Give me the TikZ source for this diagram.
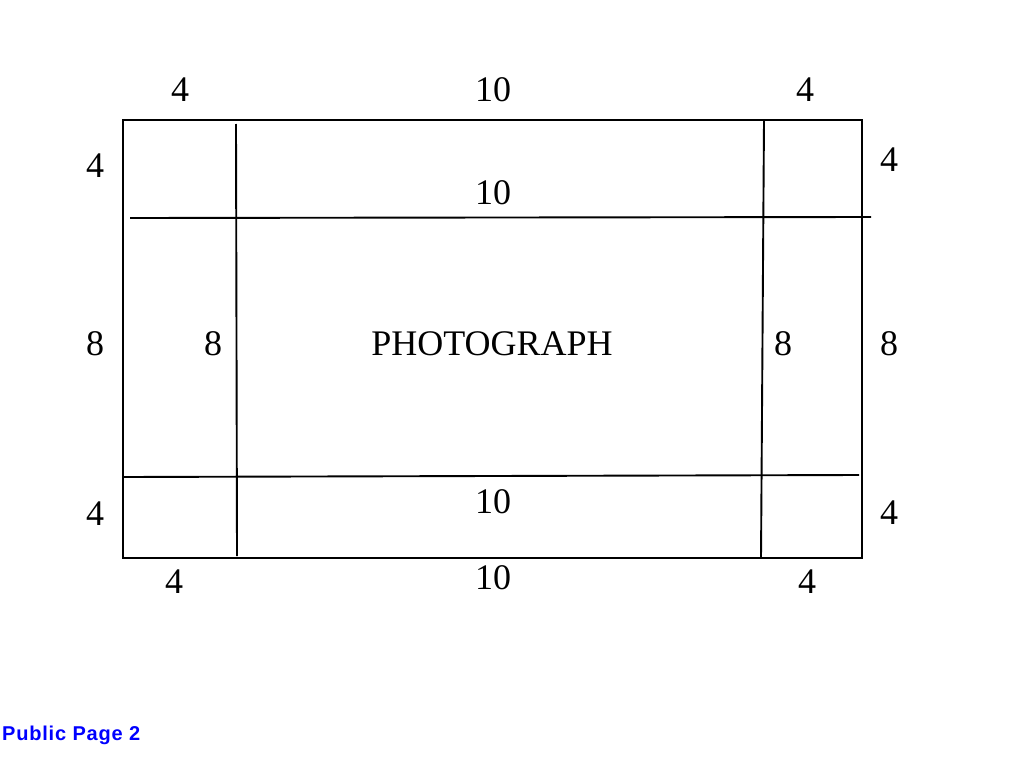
\documentclass[tikz,border=0pt]{standalone}
\usepackage{fontspec}
\setmainfont{Liberation Serif}
\newfontfamily\pagefont{Liberation Sans}
\begin{document}
\begin{tikzpicture}[x = 1pt, y = -1pt]
\tikzstyle{FrameStyle} = [line width = 1.9pt, draw = black]
\tikzstyle{CutStyle} = [line width = 1.9pt, draw = black]
\tikzstyle{SizeStyle} = [inner sep = 0pt, font = \fontsize{36}{40}\selectfont]
\tikzstyle{PageStyle} = [inner sep = 0pt, anchor = west, text = blue, font = \pagefont\bfseries\fontsize{20}{24}\selectfont]
\useasboundingbox (0,0) rectangle (1014,760);
% outer frame
\coordinate (o1) at (123,120);
\coordinate (o2) at (862,558);
\draw[FrameStyle] (o1) rectangle (o2);
% cut lines
\coordinate (vl1) at (236,124);
\coordinate (vl2) at (237,556);
\coordinate (vr1) at (764,120);
\coordinate (vr2) at (761,558);
\coordinate (ht1) at (130,218);
\coordinate (ht2) at (871,217);
\coordinate (hb1) at (123,477);
\coordinate (hb2) at (859,475);
\draw[CutStyle] (vl1) -- (vl2);
\draw[CutStyle] (vr1) -- (vr2);
\draw[CutStyle] (ht1) -- (ht2);
\draw[CutStyle] (hb1) -- (hb2);
% sizes
\node[SizeStyle] (t1) at (180,90) {4};
\node[SizeStyle] (t2) at (493,90) {10};
\node[SizeStyle] (t3) at (805,90) {4};
\node[SizeStyle] (l1) at (95,166) {4};
\node[SizeStyle] (l2) at (95,344) {8};
\node[SizeStyle] (l3) at (95,514) {4};
\node[SizeStyle] (r1) at (889,160) {4};
\node[SizeStyle] (r2) at (889,344) {8};
\node[SizeStyle] (r3) at (889,513) {4};
\node[SizeStyle] (i1) at (493,193) {10};
\node[SizeStyle] (i2) at (213,344) {8};
\node[SizeStyle] (i3) at (783,344) {8};
\node[SizeStyle] (i4) at (493,502) {10};
\node[SizeStyle] (b1) at (174,582) {4};
\node[SizeStyle] (b2) at (493,578) {10};
\node[SizeStyle] (b3) at (807,582) {4};
\node[SizeStyle] (photo) at (492,344) {PHOTOGRAPH};
\node[PageStyle] (page) at (2,735) {\addfontfeature{LetterSpace=4}Public Page 2};
\end{tikzpicture}
\end{document}
